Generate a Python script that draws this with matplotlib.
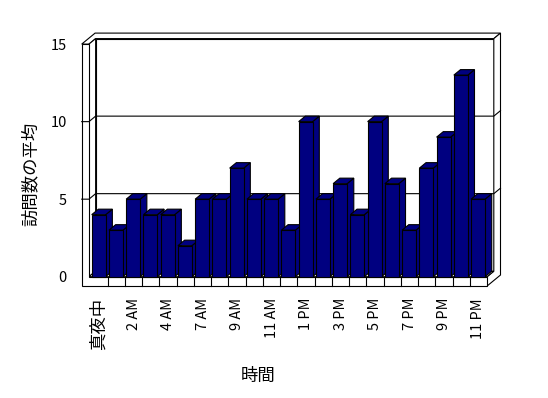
import matplotlib
matplotlib.use('Agg')
import matplotlib.pyplot as plt
from matplotlib.patches import Polygon
import numpy as np

plt.rcParams['font.family'] = ['Noto Sans CJK JP', 'DejaVu Sans']

categories = ['真夜中', '1 AM', '2 AM', '3 AM', '4 AM', '5 AM', '7 AM', '8 AM',
              '9 AM', '10 AM', '11 AM', '12 PM', '1 PM', '2 PM', '3 PM', '4 PM',
              '5 PM', '6 PM', '7 PM', '8 PM', '9 PM', '10 PM', '11 PM']
visits = [4, 3, 5, 4, 4, 2, 5, 5, 7, 5, 5, 3, 10, 5, 6, 4, 10, 6, 3, 7, 9, 13, 5]
y_ticks = [0, 5, 10, 15]
y_label = '訪問数の平均'
x_label = '時間'

BAR = '#000080'
LW = 0.8
DX, DY = 0.388, 0.355          # oblique depth offset (data units)
XL_OUT, XL_IN = -0.51, -0.09   # left wall front face
n = len(categories)
XR = n
YMAX = y_ticks[-1]
FB = -0.6                      # floor slab bottom

fig = plt.figure(figsize=(5.48, 3.98), dpi=100)
ax = fig.add_axes([81.7 / 548, 112 / 398, 418.8 / 548, 252.9 / 398])
ax.set_xlim(XL_OUT, XR + 2 * DX)
ax.set_ylim(FB, YMAX + 2 * DY)
ax.patch.set_visible(False)
for s in ax.spines.values():
    s.set_visible(False)


def poly(pts, fc='white', z=1):
    ax.add_patch(Polygon(pts, closed=True, fc=fc, ec='black', lw=LW,
                         zorder=z, clip_on=False, joinstyle='miter'))


# walls and floor
poly([(XL_IN + DX, DY), (XR + DX, DY), (XR + DX, YMAX + DY), (XL_IN + DX, YMAX + DY)])
poly([(XL_OUT, YMAX), (XL_IN, YMAX), (XL_IN + DX, YMAX + DY), (XR + DX, YMAX + DY),
      (XR + 2 * DX, YMAX + 2 * DY), (XL_OUT + 2 * DX, YMAX + 2 * DY)])
poly([(XR, 0), (XR, FB), (XR + 2 * DX, FB + 2 * DY), (XR + 2 * DX, YMAX + 2 * DY),
      (XR + DX, YMAX + DY), (XR + DX, DY)])
poly([(XL_IN, 0), (XL_IN, YMAX), (XL_IN + DX, YMAX + DY), (XL_IN + DX, DY)])
poly([(XL_IN, 0), (XR, 0), (XR + DX, DY), (XL_IN + DX, DY)])
poly([(XL_OUT, FB), (XR, FB), (XR, 0), (XL_IN, 0), (XL_IN, YMAX), (XL_OUT, YMAX)], z=2)

# gridlines
for v in y_ticks:
    if 0 < v < YMAX:
        ax.plot([XL_OUT, XL_IN, XL_IN + DX, XR + DX, XR + 2 * DX],
                [v, v, v + DY, v + DY, v + 2 * DY], color='black', lw=LW,
                zorder=3, clip_on=False)

# category dividers on floor front
for k in range(1, n):
    ax.plot([k, k], [FB, 0], color='black', lw=LW, zorder=3, clip_on=False)

# bars
idx = np.arange(n)
left = idx + 0.07
W = 0.81
bars = ax.bar(left, visits, width=W, align='edge', color=BAR,
              edgecolor='black', linewidth=LW)
for i, (p, l, v) in enumerate(zip(bars, left, visits)):
    r = l + W
    p.set_zorder(10 + 3 * i + 2)
    poly([(r, 0), (r, v), (r + DX, v + DY), (r + DX, DY)], fc=BAR, z=10 + 3 * i)
    poly([(l, v), (r, v), (r + DX, v + DY), (l + DX, v + DY)], fc=BAR, z=10 + 3 * i + 1)

# ticks & labels
ax.set_yticks(y_ticks)
ax.set_yticklabels([str(t) for t in y_ticks], fontsize=10.5)
ax.set_xticks(idx[::2] + 0.5)
ax.set_xticklabels(categories[::2], rotation=90, fontsize=10.5, va='top', ha='center')
ax.get_xticklabels()[0].set_fontsize(12.5)
ax.tick_params(axis='y', length=0, pad=10.6)
ax.tick_params(axis='x', length=0, pad=8.6)

ax.set_ylabel(y_label, fontsize=12.5, va='center', ha='center')
ax.yaxis.set_label_coords((30.5 - 81.7) / 418.8, (286 - 174) / 252.9)
ax.set_xlabel(x_label, fontsize=12.5, va='center', ha='center')
ax.xaxis.set_label_coords((258 - 81.7) / 418.8, (286 - 376) / 252.9)

fig.savefig('out.png', dpi=100)
